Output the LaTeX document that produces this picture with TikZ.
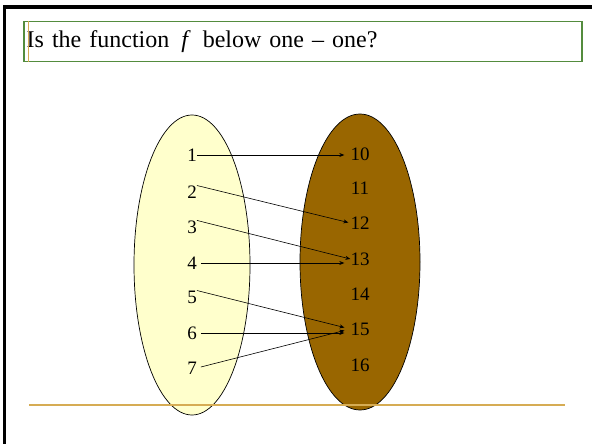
\documentclass[tikz,border=0pt]{standalone}
\usepackage{fontspec}
\setmainfont{Liberation Serif}
\usepackage{tikz}
\usetikzlibrary{arrows.meta,shapes.geometric}

\definecolor{setpale}{RGB}{255,255,204}
\definecolor{setbrown}{RGB}{153,102,0}
\definecolor{titlegreen}{RGB}{84,140,62}
\definecolor{rulegold}{RGB}{214,172,84}

\begin{document}
\begin{tikzpicture}[x=1pt, y=-1pt, >={Stealth[length=5pt,width=4pt]},
  set/.style={ellipse, draw, line width=0.7pt, inner sep=0pt,
              minimum width=116pt, minimum height=300pt},
  elem/.style={font=\fontsize{19}{19}\selectfont, inner sep=0pt},
  map/.style={->, line width=0.6pt, shorten >=6pt}]
  \useasboundingbox (0,0) rectangle (592,444);

  % Frame
  \draw[line width=3.5pt] (592,7) -- (4.5,7) -- (4.5,444);

  % Title
  \node[draw=titlegreen, line width=1.5pt, anchor=north west, inner sep=0pt,
        minimum width=558pt, minimum height=40pt, text width=552pt, align=left,
        font=\fontsize{24}{24}\selectfont] (title) at (23,21)
    {Is the function \,\textit{f}\, below one -- one?};
  \draw[rulegold, line width=1pt] ([xshift=5pt]title.north west)
    -- ([xshift=5pt]title.south west);

  % Sets
  \node[set, fill=setpale] (dom) at (192,265) {};
  \node[set, fill=setbrown, minimum width=120pt, minimum height=296pt] (cod) at (360,262) {};

  % Elements
  \foreach \n/\y in {1/155, 2/192, 3/227, 4/263, 5/297, 6/333, 7/368}
    \node[elem] (a\n) at (192,\y) {\n};
  \foreach \n/\y in {10/154, 11/188, 12/223, 13/259, 14/294, 15/329, 16/365}
    \node[elem] (b\n) at (360,\y) {\n};

  % Mapping f
  \draw[map] (a1.east) -- (a1.east -| b10.west);
  \draw[map, shorten >=2pt] (a2.north east) -- (b12.west);
  \draw[map, shorten >=0pt] (a3.north east) -- (b13.west);
  \draw[map, shorten <=4pt] (a4.east) -- (a4.east -| b13.west);
  \draw[map] (a5.north east) -- (b15.west);
  \draw[map, shorten <=4pt] (a6.east) -- (a6.east -| b15.west);
  \draw[map, shorten <=4pt] (a7.east) -- (b15.west);

  % Rule
  \draw[rulegold, line width=2pt] (29,405) -- (565,405);
\end{tikzpicture}
\end{document}
